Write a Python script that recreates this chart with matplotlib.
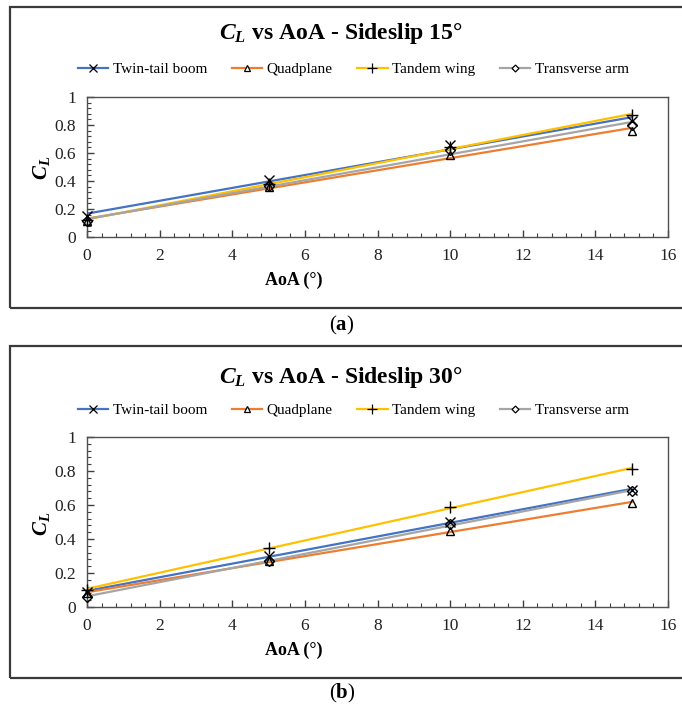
import numpy as np
import matplotlib
matplotlib.use("Agg")
import matplotlib.pyplot as plt
from matplotlib.lines import Line2D
from matplotlib.patches import Rectangle
from matplotlib.ticker import MultipleLocator

plt.rcParams['font.family'] = ['Liberation Serif', 'DejaVu Serif']
plt.rcParams['mathtext.fontset'] = 'custom'
plt.rcParams['mathtext.rm'] = 'Liberation Serif'
plt.rcParams['mathtext.it'] = 'Liberation Serif:italic'
plt.rcParams['mathtext.bf'] = 'Liberation Serif:bold'
plt.rcParams['mathtext.bfit'] = 'Liberation Serif:italic:bold'

# angle of attack (deg)
aoa = [0, 5, 10, 15]

# lift coefficient, sideslip 15 deg
twin_15 = [0.150, 0.405, 0.660, 0.830]
quad_15 = [0.115, 0.360, 0.585, 0.760]
tandem_15 = [0.120, 0.380, 0.640, 0.870]
transverse_15 = [0.115, 0.365, 0.620, 0.800]

# lift coefficient, sideslip 30 deg
twin_30 = [0.090, 0.300, 0.500, 0.690]
quad_30 = [0.080, 0.270, 0.450, 0.610]
tandem_30 = [0.100, 0.350, 0.590, 0.810]
transverse_30 = [0.060, 0.270, 0.490, 0.680]

names = ['Twin-tail boom', 'Quadplane', 'Tandem wing', 'Transverse arm']
colors = ['#4472C4', '#ED7D31', '#FFC000', '#A5A5A5']
markers = ['x', '^', '+', 'D']
msizes = [7, 6, 8, 5]

fig = plt.figure(figsize=(6.82, 7.10), dpi=100)

# outer frames of the two sub-figures
for y0, y1 in [(7, 308), (346, 678)]:
    fig.patches.append(Rectangle((10 / 682, 1 - y1 / 710), 700 / 682, (y1 - y0) / 710,
                                 transform=fig.transFigure, fill=False,
                                 edgecolor='#3a3a3a', linewidth=1.6))


def panel(rect, series, title, y_title, y_leg, y_xlab, y_ylab, tag, y_tag):
    ax = fig.add_axes(rect)
    x = np.array(aoa, dtype=float)
    xx = np.array([0, 15], dtype=float)
    for vals, c in zip(series, colors):
        # linear trendline through the data
        k, b = np.polyfit(x, vals, 1)
        ax.plot(xx, k * xx + b, color=c, linewidth=1.6, zorder=2)
    for vals, m, ms in zip(series, markers, msizes):
        ax.plot(aoa, vals, linestyle='none', marker=m, markersize=ms,
                markerfacecolor='none', markeredgecolor='black',
                markeredgewidth=1.0, zorder=3, clip_on=False)

    ax.set_xlim(0, 16)
    ax.set_ylim(0, 1)
    ax.xaxis.set_major_locator(MultipleLocator(2))
    ax.xaxis.set_minor_locator(MultipleLocator(0.4))
    ax.yaxis.set_major_locator(MultipleLocator(0.2))
    ax.yaxis.set_minor_locator(MultipleLocator(0.04))
    ax.yaxis.set_major_formatter(lambda v, p: f'{v:g}')
    ax.tick_params(which='both', direction='in', colors='#404040',
                   labelcolor='#222222', labelsize=12.5, top=False, right=False)
    ax.tick_params(which='major', length=5, width=1.0, pad=8)
    ax.tick_params(which='minor', length=3, width=0.8)
    for s in ax.spines.values():
        s.set_color('#505050')
        s.set_linewidth(1.0)

    fig.text(0.5, 1 - y_title / 710, title, ha='center', va='center',
             fontsize=17, fontweight='bold')
    fig.text(0.43, 1 - y_xlab / 710, 'AoA (°)', ha='center', va='center',
             fontsize=13, fontweight='bold')
    fig.text(42 / 682, 1 - y_ylab / 710, r'$\mathbfit{C}_{\mathbfit{L}}$',
             ha='center', va='center', rotation=90, fontsize=15)
    fig.text(342 / 682, 1 - y_tag / 710, tag, ha='center', va='center',
             fontsize=15)

    handles = [Line2D([], [], color=c, linewidth=1.6, marker=m, markersize=ms - 1.5,
                      markerfacecolor='white', markeredgecolor='black',
                      markeredgewidth=0.9)
               for c, m, ms in zip(colors, markers, msizes)]
    fig.legend(handles, names, loc='center', ncol=4, frameon=False,
               bbox_to_anchor=(0.518, 1 - y_leg / 710), fontsize=11,
               handlelength=2.0, columnspacing=1.6, handletextpad=0.3)
    return ax


panel([87 / 682, 1 - 237 / 710, 581 / 682, 140 / 710],
      [twin_15, quad_15, tandem_15, transverse_15],
      r'$\mathbfit{C}_{\mathbfit{L}}$ vs AoA - Sideslip 15°',
      33, 69, 280, 168, r'($\mathbf{a}$)', 325)
panel([87 / 682, 1 - 607 / 710, 581 / 682, 170 / 710],
      [twin_30, quad_30, tandem_30, transverse_30],
      r'$\mathbfit{C}_{\mathbfit{L}}$ vs AoA - Sideslip 30°',
      378, 410, 650, 524, r'($\mathbf{b}$)', 693)

fig.savefig('out.png', dpi=100)
